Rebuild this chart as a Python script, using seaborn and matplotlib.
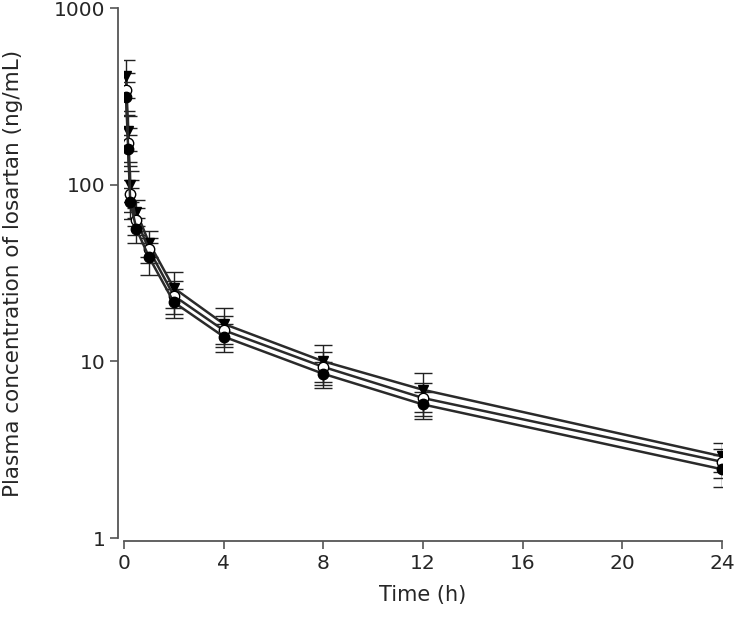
import numpy as np
import pandas as pd
import matplotlib
matplotlib.use('Agg')
import matplotlib.pyplot as plt
import seaborn as sns

# sampling times (h)
time_h = [0.083, 0.167, 0.25, 0.5, 1, 2, 4, 8, 12, 24]

# mean plasma concentrations (ng/mL) and SD
conc_tri = [410, 200, 100, 70, 47, 26, 16.3, 10.0, 6.9, 2.9]
sd_tri = [100, 45, 20, 12, 8, 6, 3.7, 2.4, 1.7, 0.55]

conc_open = [345, 172, 88, 63, 43, 23.5, 15.0, 9.3, 6.2, 2.7]
sd_open = [85, 38, 18, 11, 7, 5, 3.0, 2.0, 1.3, 0.5]

conc_fill = [315, 160, 80, 56, 39, 21.6, 13.8, 8.5, 5.7, 2.45]
sd_fill = [67, 32, 16, 9, 8, 4, 2.5, 1.4, 1.0, 0.5]

groups = ['tri', 'open', 'fill']
df = pd.DataFrame({
    'Time': time_h * 3,
    'Conc': conc_tri + conc_open + conc_fill,
    'SD': sd_tri + sd_open + sd_fill,
    'Group': np.repeat(groups, len(time_h)),
})

sns.set_style('ticks')
plt.rcParams['font.family'] = ['DejaVu Sans']

fig = plt.figure(figsize=(7.4, 6.23), dpi=100)
ax = fig.add_axes([124 / 740, 85 / 623, 598 / 740, 530 / 623])

styles = {
    'tri': dict(marker='v', mfc='black'),
    'open': dict(marker='o', mfc='white'),
    'fill': dict(marker='o', mfc='black'),
}

for g in groups:
    sub = df[df['Group'] == g]
    ax.errorbar(sub['Time'], sub['Conc'], yerr=sub['SD'], fmt='none',
                ecolor='#222222', elinewidth=1.0, capsize=6.5, capthick=1.0, zorder=2)
    sns.lineplot(data=sub, x='Time', y='Conc', ax=ax, color='#2a2a2a',
                 linewidth=1.8, marker=styles[g]['marker'], markersize=7.5,
                 markerfacecolor=styles[g]['mfc'], markeredgecolor='black',
                 markeredgewidth=1.0, zorder=3)

ax.set_yscale('log')
ax.set_ylim(1, 1000)
ax.set_xlim(0, 24)
ax.set_xticks([0, 4, 8, 12, 16, 20, 24])
ax.set_yticks([1, 10, 100, 1000])
ax.set_yticklabels(['1', '10', '100', '1000'])
ax.yaxis.set_minor_locator(matplotlib.ticker.NullLocator())

ax.set_xlabel('Time (h)', fontsize=15, labelpad=9)
ax.set_ylabel('Plasma concentration of losartan (ng/mL)', fontsize=15.5, labelpad=22)
ax.tick_params(axis='both', labelsize=14.5, length=6, width=1.2, color='#555555')

sns.despine(ax=ax)
ax.spines['left'].set_position(('outward', 4))
ax.spines['bottom'].set_position(('outward', 2))
for s in ['left', 'bottom']:
    ax.spines[s].set_color('#555555')
    ax.spines[s].set_linewidth(1.3)

fig.savefig('out.png', dpi=100)
